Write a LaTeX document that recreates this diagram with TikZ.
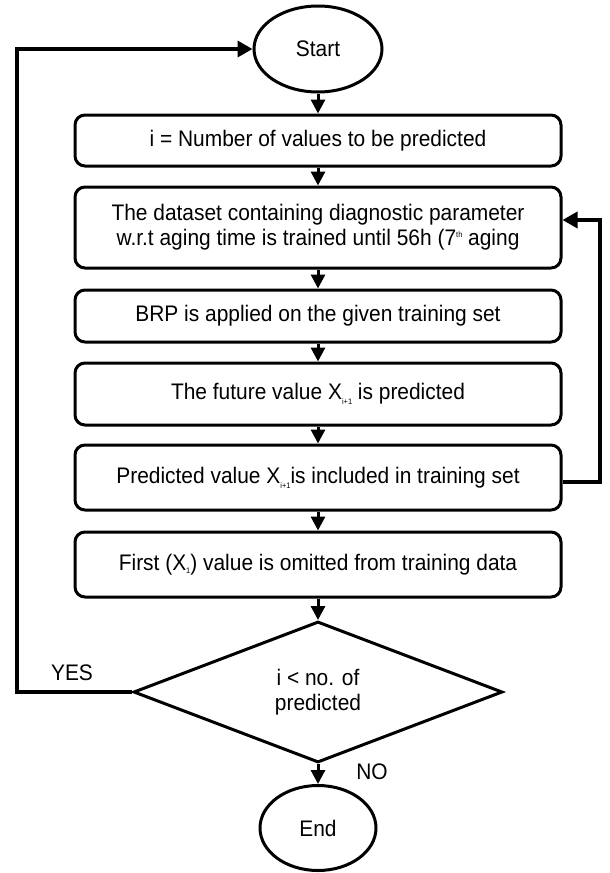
\documentclass[tikz,border=0pt]{standalone}
\usepackage{fontspec}
\setmainfont[FakeStretch=0.93]{Liberation Sans}
\usetikzlibrary{shapes.geometric,arrows.meta}
\newcommand{\lsub}[2][-5pt]{\raisebox{#1}{\fontsize{8}{8}\selectfont #2}}
\newcommand{\lsup}[1]{\raisebox{8pt}{\fontsize{8}{8}\selectfont #1}}
\begin{document}
\begin{tikzpicture}[x=1pt,y=-1pt,
  every node/.style={font=\fontsize{22.5}{25}\selectfont},
  stepbox/.style={draw,line width=3pt,rounded corners=10pt,minimum width=486pt,align=center,inner sep=0pt},
  term/.style={draw,ellipse,line width=3pt,inner sep=0pt},
  decision/.style={draw,diamond,aspect=2.617,line width=3pt,inner sep=0pt,align=center},
  flow/.style={line width=3pt,-{Triangle[length=14pt,width=14pt]}},
  loopline/.style={line width=3.5pt,-{Triangle[length=15pt,width=16pt]}}]
\useasboundingbox (0,0) rectangle (610,873);
\node[term,minimum width=128pt,minimum height=86pt] (start) at (318,49) {Start};
\node[stepbox,minimum height=51pt] (b1) at (318,140.5) {i = Number of values to be predicted};
\node[stepbox,minimum height=81pt] (b2) at (318,227.5) {The dataset containing diagnostic parameter\\w.r.t aging time is trained until 56h (7\lsup{th} aging};
\node[stepbox,minimum height=52pt] (b3) at (318,316) {BRP is applied on the given training set};
\node[stepbox,minimum height=62pt] (b4) at (318,394) {The future value X\lsub{i+1}\ is predicted};
\node[stepbox,minimum height=65pt] (b5) at (318,477.5) {Predicted value X\lsub{i+1}is included in training set};
\node[stepbox,minimum height=65pt] (b6) at (318,564.5) {First (X\lsub[-3pt]{1}) value is omitted from training data};
\node[decision,minimum width=369pt,minimum height=141pt] (dec) at (318,692) {i {<} no. of\\predicted};
\node[term,minimum width=116pt,minimum height=85pt] (end) at (318,828) {End};
\node (yes) at (72,673) {YES};
\node (no) at (372,772) {NO};
\coordinate (lx) at (17,400);
\coordinate (rx) at (600,350);
\draw[flow] (start) -- (b1);
\draw[flow] (b1) -- (b2);
\draw[flow] (b2) -- (b3);
\draw[flow] (b3) -- (b4);
\draw[flow] (b4) -- (b5);
\draw[flow] (b5) -- (b6);
\draw[flow] (b6) -- (dec);
\draw[flow] (dec) -- (end);
\draw[loopline] (dec.west) -| (lx) |- (start.west);
\draw[loopline] ([yshift=-4.5pt]b5.east) -| (rx) |- ([yshift=7.5pt]b2.east);
\end{tikzpicture}
\end{document}
